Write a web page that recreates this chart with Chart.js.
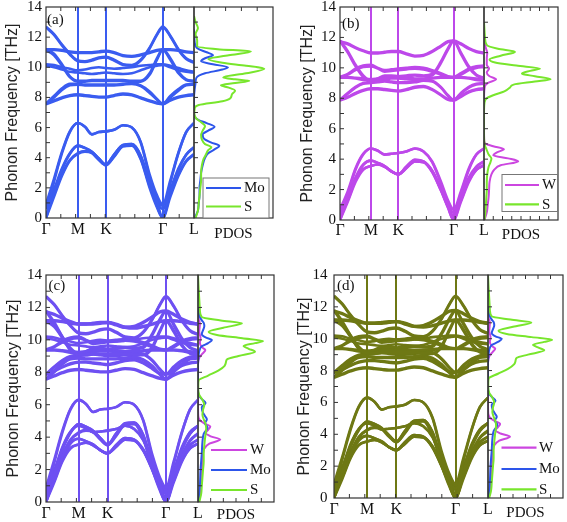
<!DOCTYPE html>
<html><head><meta charset="utf-8">
<script src="https://cdn.jsdelivr.net/npm/chart.js@4.4.0/dist/chart.umd.min.js"></script>
<style>
html,body{margin:0;padding:0;background:#fff;}
#wrap{position:relative;width:567px;height:522px;overflow:hidden;background:#fff;}
canvas{position:absolute;}
</style></head><body><div id="wrap"></div>
<script>
// ---- path / axis data ----
const kPath = [0, 0.054, 0.108, 0.161, 0.215, 0.263, 0.31, 0.357, 0.405, 0.46, 0.52, 0.58, 0.64, 0.70, 0.75, 0.789, 0.84, 0.895, 0.947, 1.0];
const symPoints = [0, 0.215, 0.405, 0.789, 1.0];
const symLabels = ['Γ', 'M', 'K', 'Γ', 'L'];
const freqTickLabels = [0, 2, 4, 6, 8, 10, 12, 14];
const freqMinorTicks = [1,2,3,4,5,6,7,8,9,10,11,12,13];
const bandMinorTicks = [0.1,0.2,0.3,0.4,0.5,0.6,0.7,0.8,0.9];
const panelLabels = ['(a)', '(b)', '(c)', '(d)'];

// ---- MoS2 bands (THz) ----
const mos2Optical = [
  [12.7, 12.2, 11.5, 10.9, 10.45, 10.4, 10.5, 10.65, 10.7, 10.5, 10.2, 10.15, 10.5, 11.3, 12.2, 12.7, 12.1, 11.2, 10.6, 10.35],
  [12.65, 12.15, 11.45, 10.85, 10.4, 10.35, 10.45, 10.6, 10.65, 10.45, 10.15, 10.1, 10.45, 11.25, 12.15, 12.65, 12.05, 11.15, 10.55, 10.3],
  [11.2, 11.2, 11.15, 11.05, 11.0, 11.0, 11.0, 11.05, 11.1, 11.0, 10.8, 10.75, 10.85, 11.0, 11.15, 11.2, 11.2, 11.15, 11.05, 11.0],
  [11.15, 11.15, 11.1, 11.0, 10.95, 10.95, 10.95, 11.0, 11.05, 10.95, 10.75, 10.7, 10.8, 10.95, 11.1, 11.15, 11.15, 11.1, 11.0, 10.95],
  [11.2, 10.9, 10.2, 9.4, 9.1, 9.1, 9.15, 9.15, 9.15, 9.15, 9.15, 9.1, 9.1, 9.6, 10.6, 11.2, 10.6, 9.7, 9.2, 9.1],
  [11.15, 10.8, 10.1, 9.35, 9.05, 9.05, 9.1, 9.1, 9.1, 9.1, 9.1, 9.05, 9.05, 9.5, 10.5, 11.15, 10.5, 9.6, 9.15, 9.05],
  [10.2, 10.15, 10.0, 9.9, 9.8, 9.85, 9.95, 10.0, 9.95, 9.9, 9.95, 10.0, 10.1, 10.15, 10.2, 10.2, 10.1, 9.95, 9.8, 9.7],
  [10.1, 10.0, 9.85, 9.7, 9.65, 9.6, 9.55, 9.6, 9.65, 9.6, 9.55, 9.6, 9.8, 10.0, 10.1, 10.15, 10.0, 9.8, 9.7, 9.65],
  [7.6, 8.1, 8.6, 8.9, 8.9, 8.85, 8.85, 8.85, 8.85, 8.85, 8.9, 8.95, 8.8, 8.4, 7.9, 7.6, 8.1, 8.55, 8.85, 8.9],
  [7.55, 8.0, 8.5, 8.8, 8.85, 8.8, 8.8, 8.8, 8.8, 8.8, 8.85, 8.9, 8.75, 8.3, 7.85, 7.55, 8.0, 8.45, 8.8, 8.85],
  [7.6, 7.8, 8.0, 8.15, 8.2, 8.15, 8.1, 8.05, 8.05, 8.15, 8.25, 8.2, 8.0, 7.8, 7.65, 7.6, 7.85, 8.05, 8.15, 8.2],
  [7.55, 7.75, 7.95, 8.1, 8.15, 8.1, 8.05, 8.0, 8.0, 8.1, 8.2, 8.15, 7.95, 7.75, 7.6, 7.55, 7.8, 8.0, 8.1, 8.15]
];
const mos2Acoustic = [
  [0, 2.4, 4.3, 5.7, 6.3, 6.05, 5.55, 5.7, 5.75, 5.85, 6.15, 6.0, 5.0, 2.7, 1.1, 0, 2.3, 4.3, 5.7, 6.3],
  [0.9, 2.6, 4.4, 5.75, 6.3, 6.05, 5.55, 5.7, 5.75, 5.85, 6.15, 6.0, 5.05, 2.9, 1.5, 0.9, 2.5, 4.35, 5.7, 6.3],
  [0, 1.7, 3.2, 4.25, 4.8, 4.65, 4.4, 3.95, 3.55, 4.2, 4.85, 4.9, 4.1, 2.2, 0.8, 0, 1.7, 3.2, 4.2, 4.7],
  [0.8, 1.9, 3.3, 4.3, 4.8, 4.65, 4.4, 3.95, 3.55, 4.2, 4.85, 4.9, 4.15, 2.4, 1.2, 0.8, 1.9, 3.3, 4.2, 4.7],
  [0, 1.4, 2.8, 3.8, 4.25, 4.4, 4.3, 3.85, 3.5, 4.05, 4.75, 4.8, 3.9, 2.0, 0.7, 0, 1.4, 2.8, 3.75, 4.2],
  [0.6, 1.6, 2.9, 3.85, 4.3, 4.45, 4.35, 3.9, 3.5, 4.1, 4.8, 4.85, 3.95, 2.15, 1.0, 0.6, 1.6, 2.9, 3.8, 4.25]
];
// ---- WS2 bands (THz) ----
const ws2Optical = [
  [11.75, 11.6, 11.35, 11.15, 11.0, 11.0, 11.05, 11.1, 11.1, 10.95, 10.8, 10.85, 11.1, 11.45, 11.75, 11.8, 11.6, 11.3, 11.1, 11.0],
  [11.7, 11.55, 11.3, 11.1, 10.95, 10.95, 11.0, 11.05, 11.05, 10.9, 10.75, 10.8, 11.05, 11.4, 11.7, 11.75, 11.55, 11.25, 11.05, 10.95],
  [11.8, 11.1, 10.2, 9.5, 9.15, 9.3, 9.5, 9.5, 9.45, 9.5, 9.55, 9.5, 9.6, 10.4, 11.3, 11.8, 11.0, 10.1, 9.55, 9.35],
  [11.75, 11.0, 10.1, 9.4, 9.1, 9.25, 9.45, 9.45, 9.4, 9.45, 9.5, 9.45, 9.5, 10.3, 11.2, 11.75, 10.9, 10.0, 9.5, 9.3],
  [9.4, 9.6, 9.95, 10.15, 10.2, 10.0, 9.85, 9.9, 9.95, 10.0, 10.05, 10.0, 9.85, 9.65, 9.45, 9.4, 9.65, 9.95, 10.1, 10.15],
  [9.35, 9.55, 9.85, 10.05, 10.1, 9.95, 9.75, 9.8, 9.85, 9.9, 9.95, 9.9, 9.75, 9.55, 9.4, 9.35, 9.55, 9.85, 10.0, 10.05],
  [9.4, 9.4, 9.35, 9.3, 9.25, 9.3, 9.35, 9.35, 9.35, 9.35, 9.3, 9.3, 9.35, 9.4, 9.4, 9.4, 9.4, 9.35, 9.3, 9.25],
  [9.35, 9.35, 9.3, 9.2, 9.15, 9.2, 9.25, 9.3, 9.3, 9.25, 9.2, 9.2, 9.3, 9.35, 9.35, 9.35, 9.35, 9.3, 9.2, 9.15],
  [7.9, 8.1, 8.35, 8.55, 8.65, 8.65, 8.6, 8.55, 8.5, 8.6, 8.75, 8.8, 8.6, 8.25, 7.95, 7.9, 8.15, 8.45, 8.6, 8.65],
  [7.85, 8.05, 8.3, 8.5, 8.6, 8.6, 8.55, 8.5, 8.45, 8.55, 8.7, 8.75, 8.55, 8.2, 7.9, 7.85, 8.1, 8.4, 8.55, 8.6],
  [7.9, 8.35, 8.75, 9.0, 9.05, 9.1, 9.15, 9.1, 9.05, 9.05, 9.1, 9.2, 9.15, 8.75, 8.2, 7.9, 8.35, 8.75, 8.95, 9.0],
  [7.85, 8.3, 8.7, 8.95, 9.0, 9.05, 9.1, 9.05, 9.0, 9.0, 9.05, 9.15, 9.1, 8.7, 8.15, 7.85, 8.3, 8.7, 8.9, 8.95]
];
const ws2Acoustic = [
  [0, 1.7, 3.3, 4.3, 4.7, 4.55, 4.3, 4.35, 4.4, 4.5, 4.7, 4.5, 3.8, 2.4, 1.0, 0, 1.7, 3.3, 4.3, 4.7],
  [0.7, 1.9, 3.4, 4.35, 4.7, 4.55, 4.3, 4.35, 4.4, 4.5, 4.7, 4.5, 3.85, 2.55, 1.3, 0.7, 1.9, 3.4, 4.3, 4.7],
  [0, 1.4, 2.7, 3.6, 3.9, 3.75, 3.55, 3.2, 3.0, 3.5, 3.95, 3.85, 3.2, 2.0, 0.85, 0, 1.4, 2.7, 3.5, 3.85],
  [0.5, 1.5, 2.8, 3.65, 3.9, 3.75, 3.55, 3.2, 3.0, 3.5, 3.95, 3.85, 3.25, 2.1, 1.0, 0.5, 1.5, 2.8, 3.5, 3.85],
  [0, 1.2, 2.5, 3.3, 3.55, 3.65, 3.5, 3.2, 3.0, 3.4, 3.85, 3.8, 3.15, 1.95, 0.8, 0, 1.2, 2.5, 3.3, 3.6],
  [0.3, 1.3, 2.6, 3.35, 3.55, 3.65, 3.5, 3.2, 3.0, 3.4, 3.85, 3.8, 3.2, 2.0, 0.9, 0.3, 1.3, 2.6, 3.3, 3.6]
];

// ---- PDOS: [frequency THz, density] ----
const pdosA_S = [[0,0.1],[0.5,0.25],[1,0.3],[1.5,0.35],[2,0.4],[2.5,0.45],[3,0.45],[3.5,0.5],[3.9,0.6],[4.2,0.75],[4.5,0.9],[4.7,1.1],[4.9,0.7],[5.2,0.5],[5.5,0.45],[5.8,0.55],[6.1,0.7],[6.35,0.45],[6.6,0.15],[6.9,0.02],[7.3,0.05],[7.5,0.3],[7.75,1.8],[7.95,2.3],[8.2,2.4],[8.45,2.6],[8.65,2.2],[8.8,1.7],[8.95,2.6],[9.1,3.5],[9.2,2.6],[9.33,1.85],[9.6,3.3],[9.9,4.45],[10.1,3.3],[10.3,1.8],[10.55,0.9],[10.8,2.2],[11.05,3.6],[11.2,1.5],[11.4,0.2],[11.8,0.2],[12.2,0.1],[12.6,0.25],[13.0,0.1],[13.4,0]];
const pdosA_Mo = [[0,0.05],[0.5,0.25],[1,0.3],[1.5,0.35],[2,0.35],[2.5,0.4],[3,0.45],[3.5,0.55],[4,0.7],[4.3,0.9],[4.55,1.3],[4.8,1.6],[5.0,1.1],[5.3,0.6],[5.55,0.55],[5.8,0.9],[6.05,1.3],[6.3,0.8],[6.5,0.3],[6.7,0.05],[7.0,0],[8.0,0],[8.6,0.05],[9.0,0.1],[9.3,0.15],[9.6,0.7],[9.85,1.8],[10.0,2.15],[10.2,1.2],[10.4,0.45],[10.6,0.7],[10.8,1.2],[11.0,0.8],[11.2,0.3],[11.4,0.1],[12,0.02],[12.5,0]];
const pdosB_S = [[0,0.05],[0.5,0.15],[1,0.2],[1.5,0.25],[2,0.3],[2.5,0.3],[3,0.35],[3.5,0.5],[3.8,0.7],[4.05,0.8],[4.3,0.5],[4.6,0.3],[4.9,0.1],[5.2,0.02],[6,0],[7,0],[7.7,0.05],[8.0,0.3],[8.2,1.0],[8.45,2.2],[8.7,2.8],[8.9,3.2],[9.1,5.5],[9.25,7.2],[9.45,5.5],[9.62,4.1],[9.8,5.0],[9.95,6.05],[10.15,3.5],[10.35,1.2],[10.55,0.6],[10.8,1.8],[11.05,3.35],[11.25,1.5],[11.5,0.3],[12,0.1],[12.5,0.05],[13,0]];
const pdosB_W = [[0,0.05],[0.5,0.3],[1,0.4],[1.5,0.5],[2,0.55],[2.5,0.6],[3,0.8],[3.3,1.1],[3.6,1.8],[3.85,3.7],[4.05,2.6],[4.25,1.0],[4.45,1.4],[4.65,2.15],[4.85,1.0],[5.0,0.2],[5.2,0.02],[6,0],[8,0],[8.8,0.1],[9.0,0.4],[9.25,1.3],[9.45,0.6],[9.7,0.3],[9.95,0.55],[10.2,0.3],[10.6,0.3],[11.0,0.35],[11.3,0.2],[11.7,0.05],[12,0]];
const pdosC_S = [[0,0.1],[0.5,0.25],[1,0.3],[1.5,0.35],[2,0.4],[2.5,0.45],[3,0.45],[3.5,0.5],[3.9,0.55],[4.2,0.6],[4.5,0.65],[4.8,0.6],[5.1,0.45],[5.4,0.35],[5.7,0.4],[6.0,0.5],[6.3,0.35],[6.6,0.1],[6.9,0.02],[7.2,0.02],[7.5,0.05],[7.8,0.8],[8.1,1.6],[8.4,2.1],[8.6,2.2],[8.8,2.3],[9.0,3.2],[9.27,4.5],[9.45,4.0],[9.62,3.6],[9.8,4.5],[9.93,5.13],[10.1,3.5],[10.3,1.5],[10.5,0.84],[10.75,2.0],[11.02,3.47],[11.2,1.8],[11.4,0.3],[11.8,0.15],[12.5,0.1],[13.2,0.05],[14,0]];
const pdosC_Mo = [[0,0.05],[1,0.15],[2,0.2],[3,0.3],[3.7,0.35],[4.2,0.45],[4.6,0.75],[4.85,0.55],[5.1,0.7],[5.3,0.55],[5.6,0.35],[5.85,0.3],[6.1,0.6],[6.35,0.3],[6.6,0.05],[7,0],[8.5,0],[9,0.05],[9.3,0.1],[9.6,0.3],[9.8,0.8],[9.99,1.1],[10.15,0.6],[10.35,0.3],[10.6,0.4],[10.85,0.5],[11.05,0.45],[11.2,0.3],[11.4,0.15],[11.7,0.05],[12,0]];
const pdosC_W = [[0,0.05],[0.5,0.2],[1,0.25],[1.5,0.3],[2,0.3],[2.5,0.35],[3,0.4],[3.3,0.5],[3.6,0.9],[3.85,1.76],[4.05,1.0],[4.25,0.6],[4.45,0.8],[4.65,0.97],[4.85,0.5],[5.05,0.15],[5.3,0.02],[6,0],[8.5,0],[8.9,0.1],[9.15,0.35],[9.37,0.58],[9.55,0.3],[9.8,0.15],[10.1,0.2],[10.5,0.1],[11,0.15],[11.3,0.05],[11.6,0]];

const COL_S = '#78e62c', COL_MO = '#2d55ea', COL_W = '#cc46e0';

const panels = [
  {L:46, M:194, R:273, T:7, B:218, color:'#3a5cf0', bands:[...mos2Optical, ...mos2Acoustic],
   tickPad:4, titlePad:3.4, label:panelLabels[0], labelX:47, labelY:13, xLabPad:2, pdosMax:5, pdosTitleY:234.5,
   pdos:[{pts:pdosA_S,color:COL_S},{pts:pdosA_Mo,color:COL_MO}],
   legend:{box:[203,178,66,40], x1:206, x2:241, tx:244, items:[['Mo',COL_MO,188],['S',COL_S,206.5]]}},
  {L:340, M:484, R:558, T:7, B:220, color:'#bd48ea', bands:[...ws2Optical, ...ws2Acoustic],
   tickPad:4, titlePad:3.7, label:panelLabels[1], labelX:342, labelY:17, xLabPad:1, pdosMax:8, pdosTitleY:235,
   pdos:[{pts:pdosB_S,color:COL_S},{pts:pdosB_W,color:COL_W}],
   legend:{box:[502,174.5,55.5,37], x1:505, x2:539, tx:542, items:[['W',COL_W,185],['S',COL_S,204.3]]}},
  {L:46, M:198, R:274, T:275, B:502, color:'#6e50f2', bands:[...mos2Optical, ...mos2Acoustic, ...ws2Optical, ...ws2Acoustic],
   tickPad:4, titlePad:3.7, label:panelLabels[2], labelX:48.5, labelY:279, xLabPad:2, pdosMax:6, pdosTitleY:515,
   pdos:[{pts:pdosC_S,color:COL_S},{pts:pdosC_Mo,color:COL_MO},{pts:pdosC_W,color:COL_W}],
   legend:{box:null, x1:211, x2:247, tx:250, items:[['W',COL_W,450],['Mo',COL_MO,470],['S',COL_S,490]]}},
  {L:334, M:488, R:563, T:275, B:498, color:'#6e7814', bands:[...mos2Optical, ...mos2Acoustic, ...ws2Optical, ...ws2Acoustic],
   tickPad:6.5, titlePad:7.4, label:panelLabels[3], labelX:337, labelY:279, xLabPad:2, pdosMax:6, pdosTitleY:513.5,
   pdos:[{pts:pdosC_S,color:COL_S},{pts:pdosC_Mo,color:COL_MO},{pts:pdosC_W,color:COL_W}],
   legend:{box:null, x1:501.5, x2:536.5, tx:539, items:[['W',COL_W,447.7],['Mo',COL_MO,469],['S',COL_S,489.3]]}}
];

const FRAME = '#333';
const RPAD = 9;
const wrap = document.getElementById('wrap');
function mkCanvas(left, top, w, h) {
  const c = document.createElement('canvas');
  c.width = w; c.height = h;
  c.style.left = left + 'px'; c.style.top = top + 'px';
  c.style.width = w + 'px'; c.style.height = h + 'px';
  wrap.appendChild(c);
  return c;
}
function frame(ctx, a) {
  ctx.strokeStyle = FRAME; ctx.lineWidth = 1.2;
  ctx.strokeRect(a.left, a.top, a.right - a.left, a.bottom - a.top);
}
function noPad(s) { s.paddingLeft = 0; s.paddingRight = 0; s.paddingTop = 0; s.paddingBottom = 0; }

panels.forEach(p => {
  // ---------- PDOS (created first so the band canvas with the "L" label sits above it) ----------
  const pl = p.M - 3, pt = p.T - 7;
  const pw = p.R - pl + 3, ph = p.B + 30 - pt;
  const pc = mkCanvas(pl, pt, pw, ph);
  const pdosTicks = [];
  for (let i = 1; i < p.pdosMax; i++) pdosTicks.push(i);
  const pdosPlugin = {
    id: 'pdosDeco',
    afterDraw(chart) {
      const ctx = chart.ctx, a = chart.chartArea, xs = chart.scales.x, ys = chart.scales.y;
      ctx.save();
      frame(ctx, a);
      ctx.lineWidth = 1; ctx.beginPath();
      pdosTicks.forEach(v => { const px = xs.getPixelForValue(v);
        ctx.moveTo(px, a.top); ctx.lineTo(px, a.top + 4); ctx.moveTo(px, a.bottom); ctx.lineTo(px, a.bottom - 4); });
      freqMinorTicks.forEach(v => { const py = ys.getPixelForValue(v);
        ctx.moveTo(a.left, py); ctx.lineTo(a.left + 4, py); });
      ctx.stroke();
      const lg = p.legend;
      if (lg.box) {
        ctx.fillStyle = '#fff'; ctx.fillRect(lg.box[0] - pl, lg.box[1] - pt, lg.box[2], lg.box[3]);
        ctx.strokeStyle = '#777'; ctx.lineWidth = 1;
        ctx.strokeRect(lg.box[0] - pl, lg.box[1] - pt, lg.box[2], lg.box[3]);
      }
      ctx.font = '15px "Liberation Serif"'; ctx.textBaseline = 'middle'; ctx.textAlign = 'left';
      lg.items.forEach(it => {
        ctx.strokeStyle = it[1]; ctx.lineWidth = 2.2;
        ctx.beginPath(); ctx.moveTo(lg.x1 - pl, it[2] - pt); ctx.lineTo(lg.x2 - pl, it[2] - pt); ctx.stroke();
        ctx.fillStyle = '#111'; ctx.fillText(it[0], lg.tx - pl, it[2] - pt + 0.5);
      });
      ctx.restore();
    }
  };
  const titleBottomPad = ph - (p.pdosTitleY - pt) - 9;
  new Chart(pc, {
    type: 'line',
    data: { datasets: p.pdos.map(s => ({
      data: s.pts.map(q => ({x: q[1], y: q[0]})),
      borderColor: s.color, borderWidth: 2, pointRadius: 0, fill: false,
      cubicInterpolationMode: 'monotone', indexAxis: 'y'
    })) },
    options: {
      indexAxis: 'y', responsive: false, animation: false, devicePixelRatio: 1,
      layout: { padding: {left: 3, top: 7, right: 3, bottom: 0}, autoPadding: false },
      plugins: { legend: {display: false}, tooltip: {enabled: false} },
      scales: {
        x: { type: 'linear', position: 'bottom', min: 0, max: p.pdosMax,
          afterFit: s => { s.height = 30; noPad(s); },
          ticks: { display: false }, grid: { display: false, drawTicks: false }, border: { display: false },
          title: { display: true, text: 'PDOS', color: '#111',
            font: {family: 'Liberation Serif', size: 15}, padding: {top: 0, bottom: titleBottomPad} } },
        y: { type: 'linear', min: 0, max: 14, display: false }
      }
    },
    plugins: [pdosPlugin]
  });

  // ---------- band structure ----------
  const bl = p.L - 46, bt = p.T - 7;
  const bw = p.M - bl + RPAD, bh = p.B + 30 - bt;
  const bc = mkCanvas(bl, bt, bw, bh);
  const bandPlugin = {
    id: 'bandDeco',
    afterDraw(chart) {
      const ctx = chart.ctx, a = chart.chartArea, xs = chart.scales.x, ys = chart.scales.y;
      ctx.save();
      frame(ctx, a);
      ctx.lineWidth = 1; ctx.beginPath();
      bandMinorTicks.forEach(v => { const px = xs.getPixelForValue(v);
        ctx.moveTo(px, a.top); ctx.lineTo(px, a.top + 4); ctx.moveTo(px, a.bottom); ctx.lineTo(px, a.bottom - 4); });
      freqMinorTicks.forEach(v => { const py = ys.getPixelForValue(v);
        ctx.moveTo(a.left, py); ctx.lineTo(a.left + 4, py); });
      ctx.stroke();
      ctx.fillStyle = '#111'; ctx.font = '15px "Liberation Serif"'; ctx.textBaseline = 'top'; ctx.textAlign = 'left';
      ctx.fillText(p.label, p.labelX - bl, p.labelY - bt);
      ctx.restore();
    }
  };
  new Chart(bc, {
    type: 'line',
    data: { datasets: p.bands.map(b => ({
      data: b.map((v, i) => ({x: kPath[i], y: v})),
      borderColor: p.color, borderWidth: 2.6, pointRadius: 0, fill: false,
      cubicInterpolationMode: 'monotone'
    })) },
    options: {
      responsive: false, animation: false, devicePixelRatio: 1,
      layout: { padding: {left: 0, top: 7, right: RPAD, bottom: 0}, autoPadding: false },
      plugins: { legend: {display: false}, tooltip: {enabled: false} },
      scales: {
        x: { type: 'linear', min: 0, max: 1,
          afterBuildTicks: s => { s.ticks = symPoints.map(v => ({value: v})); },
          afterFit: s => { s.height = 30; noPad(s); },
          ticks: { autoSkip: false, maxRotation: 0, padding: p.xLabPad, color: '#111',
            font: {family: 'Liberation Serif', size: 16}, callback: (v, i) => symLabels[i] },
          grid: { drawTicks: false, lineWidth: 2,
            color: c => (c.index > 0 && c.index < symPoints.length - 1) ? p.color : 'rgba(0,0,0,0)' },
          border: { display: false } },
        y: { type: 'linear', min: 0, max: 14,
          afterBuildTicks: s => { s.ticks = freqTickLabels.map(v => ({value: v})); },
          afterFit: s => { s.width = 46; noPad(s); },
          ticks: { padding: p.tickPad, color: '#111', font: {family: 'Liberation Serif', size: 15} },
          grid: { display: false, drawTicks: false }, border: { display: false },
          title: { display: true, text: 'Phonon Frequency [THz]', color: '#222',
            font: {family: 'Liberation Sans', size: 16}, padding: {top: p.titlePad, bottom: 0} } }
      }
    },
    plugins: [bandPlugin]
  });
});
</script></body></html>
